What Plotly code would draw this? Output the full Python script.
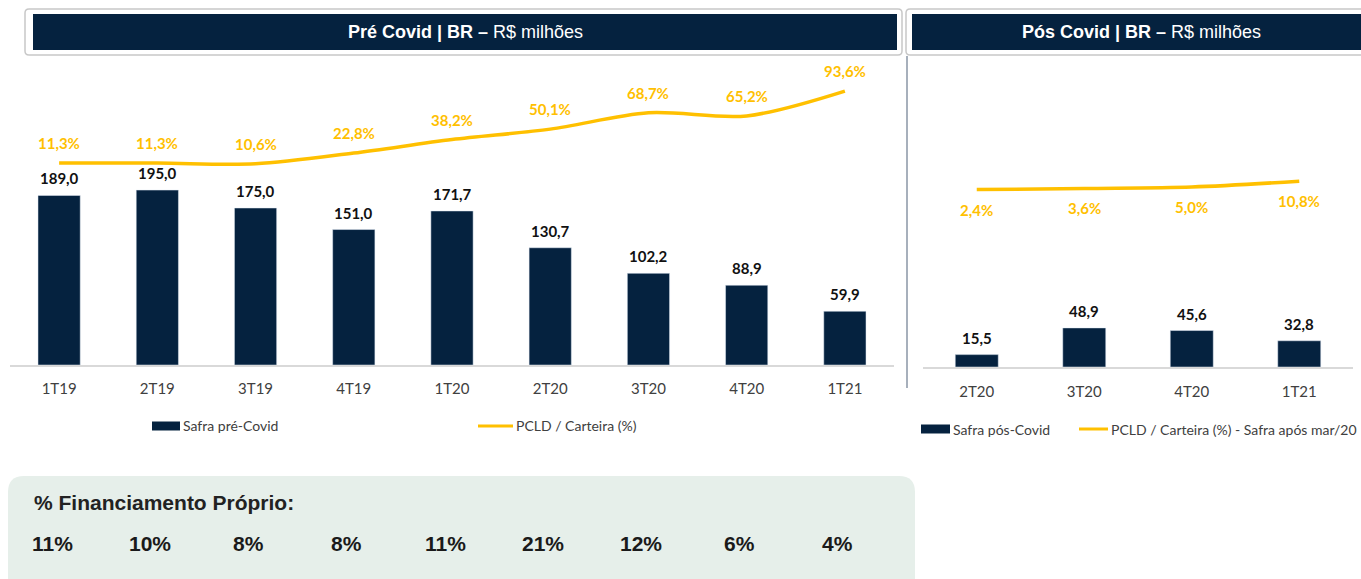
import plotly.graph_objects as go

# ---------------- data ----------------
pre_quarters = ["1T19", "2T19", "3T19", "4T19", "1T20", "2T20", "3T20", "4T20", "1T21"]
pre_safra = [189.0, 195.0, 175.0, 151.0, 171.7, 130.7, 102.2, 88.9, 59.9]
pre_pcld = [11.3, 11.3, 10.6, 22.8, 38.2, 50.1, 68.7, 65.2, 93.6]
fin_proprio = [11, 10, 8, 8, 11, 21, 12, 6, 4]

pos_quarters = ["2T20", "3T20", "4T20", "1T21"]
pos_safra = [15.5, 48.9, 45.6, 32.8]
pos_pcld = [2.4, 3.6, 5.0, 10.8]

W, H = 1361, 579
NAVY = "#05223F"
GOLD = "#FFC000"
GRAY_TXT = "#404040"


def px(x):
    return x / W


def py(y):
    return 1 - y / H


def br(v, d=1):
    return f"{v:.{d}f}".replace(".", ",")


fig = go.Figure()

# left panel
fig.add_trace(go.Bar(x=pre_quarters, y=pre_safra, marker_color=NAVY, width=0.43,
                     xaxis="x", yaxis="y", name="Safra pré-Covid", hoverinfo="x+y"))
fig.add_trace(go.Scatter(x=pre_quarters, y=pre_pcld, mode="lines",
                         line=dict(color=GOLD, width=3.5, shape="spline", smoothing=0.9),
                         xaxis="x", yaxis="y2", name="PCLD / Carteira (%)"))
# right panel
fig.add_trace(go.Bar(x=pos_quarters, y=pos_safra, marker_color=NAVY, width=0.40,
                     xaxis="x3", yaxis="y3", name="Safra pós-Covid", hoverinfo="x+y"))
fig.add_trace(go.Scatter(x=pos_quarters, y=pos_pcld, mode="lines",
                         line=dict(color=GOLD, width=3.5, shape="spline", smoothing=0.9),
                         xaxis="x3", yaxis="y4", name="PCLD / Carteira (%) - Safra após mar/20"))

annotations = []
BAR_FONT = dict(family="Lato", size=15, color="#111111")
PCT_FONT = dict(family="Lato", size=15, color=GOLD)

for q, v in zip(pre_quarters, pre_safra):
    annotations.append(dict(x=q, y=v, xref="x", yref="y", text=f"<b>{br(v)}</b>",
                            showarrow=False, yshift=17, font=BAR_FONT,
                            xanchor="center", yanchor="middle"))
for q, v in zip(pre_quarters, pre_pcld):
    annotations.append(dict(x=q, y=v, xref="x", yref="y2", text=f"<b>{br(v)}%</b>",
                            showarrow=False, yshift=20, font=PCT_FONT,
                            xanchor="center", yanchor="middle"))
for q, v in zip(pos_quarters, pos_safra):
    annotations.append(dict(x=q, y=v, xref="x3", yref="y3", text=f"<b>{br(v)}</b>",
                            showarrow=False, yshift=17, font=BAR_FONT,
                            xanchor="center", yanchor="middle"))
for q, v in zip(pos_quarters, pos_pcld):
    annotations.append(dict(x=q, y=v, xref="x3", yref="y4", text=f"<b>{br(v)}%</b>",
                            showarrow=False, yshift=-20, font=PCT_FONT,
                            xanchor="center", yanchor="middle"))

# financing row (aligned under the pre-covid quarters)
for q, v in zip(pre_quarters, fin_proprio):
    annotations.append(dict(x=q, y=py(543), xref="x", yref="paper", text=f"<b>{v}%</b>",
                            showarrow=False, xshift=-7, xanchor="center", yanchor="middle",
                            font=dict(family="Liberation Sans", size=21, color="#1a1a1a")))
annotations.append(dict(x=px(32), y=py(502), xref="paper", yref="paper", xanchor="left",
                        yanchor="middle", text="<b>% Financiamento Próprio:</b>", showarrow=False,
                        font=dict(family="Liberation Sans", size=21, color="#222222")))

# headers
annotations.append(dict(x=px(465), y=py(32), xref="paper", yref="paper",
                        xanchor="center", yanchor="middle",
                        text="<b>Pré Covid | BR –</b> R$ milhões", showarrow=False,
                        font=dict(family="Liberation Sans", size=18, color="white")))
annotations.append(dict(x=px(1141), y=py(32), xref="paper", yref="paper",
                        xanchor="center", yanchor="middle",
                        text="<b>Pós Covid | BR –</b> R$ milhões", showarrow=False,
                        font=dict(family="Liberation Sans", size=18, color="white")))

# legends (manual)
LEG_FONT = dict(family="Lato", size=14, color=GRAY_TXT)
legend_items = [
    ("bar", 152, 180, 426, 181, "Safra pré-Covid"),
    ("line", 478, 513, 426, 514, "PCLD / Carteira (%)"),
    ("bar", 921, 950, 429, 951, "Safra pós-Covid"),
    ("line", 1079, 1108, 429, 1109, "PCLD / Carteira (%) - Safra após mar/20"),
]
shapes = []
for kind, x0, x1, yc, tx, label in legend_items:
    if kind == "bar":
        shapes.append(dict(type="rect", xref="paper", yref="paper", x0=px(x0), x1=px(x1),
                           y0=py(yc + 4.5), y1=py(yc - 4.5), fillcolor=NAVY, line=dict(width=0)))
    else:
        shapes.append(dict(type="line", xref="paper", yref="paper", x0=px(x0), x1=px(x1),
                           y0=py(yc), y1=py(yc), line=dict(color=GOLD, width=3)))
    annotations.append(dict(x=px(tx), y=py(yc), xref="paper", yref="paper", xanchor="left",
                            yanchor="middle", text=label, showarrow=False, font=LEG_FONT))


def rounded_path(x0, y0, x1, y1, r):
    rx, ry = r / W, r / H
    X0, X1 = px(x0), px(x1)
    Y0, Y1 = py(y0), py(y1)  # Y0 top, Y1 bottom
    return (f"M {X0 + rx},{Y0} L {X1 - rx},{Y0} Q {X1},{Y0} {X1},{Y0 - ry} "
            f"L {X1},{Y1 + ry} Q {X1},{Y1} {X1 - rx},{Y1} L {X0 + rx},{Y1} "
            f"Q {X0},{Y1} {X0},{Y1 + ry} L {X0},{Y0 - ry} Q {X0},{Y0} {X0 + rx},{Y0} Z")


# green box
shapes.append(dict(type="path", xref="paper", yref="paper",
                   path=rounded_path(8, 476, 915, 600, 16),
                   fillcolor="#E6EFEA", line=dict(width=0), layer="below"))
# header outer borders
shapes.append(dict(type="path", xref="paper", yref="paper",
                   path=rounded_path(25, 9, 902, 55, 4),
                   fillcolor="white", line=dict(color="#C8C8C8", width=1.5), layer="below"))
shapes.append(dict(type="path", xref="paper", yref="paper",
                   path=rounded_path(906, 9, 1375, 55, 4),
                   fillcolor="white", line=dict(color="#C8C8C8", width=1.5), layer="below"))
# header navy bars
shapes.append(dict(type="rect", xref="paper", yref="paper", x0=px(33), x1=px(897),
                   y0=py(50), y1=py(14), fillcolor=NAVY, line=dict(width=0)))
shapes.append(dict(type="rect", xref="paper", yref="paper", x0=px(912), x1=px(1361),
                   y0=py(50), y1=py(14), fillcolor=NAVY, line=dict(width=0)))
# vertical separator
shapes.append(dict(type="line", xref="paper", yref="paper", x0=px(907), x1=px(907),
                   y0=py(56), y1=py(388), line=dict(color="#8A96A6", width=1.5)))

TICK_FONT = dict(family="Lato", size=15, color=GRAY_TXT)

fig.update_layout(
    width=W, height=H,
    margin=dict(l=0, r=0, t=0, b=0),
    paper_bgcolor="white", plot_bgcolor="rgba(0,0,0,0)",
    showlegend=False,
    annotations=annotations,
    shapes=shapes,
    xaxis=dict(domain=[px(10), px(894)], anchor="y", showline=True, linecolor="#D9D9D9",
               linewidth=1.5, ticks="", tickfont=TICK_FONT, ticklabelstandoff=9,
               showgrid=False, zeroline=False, fixedrange=True),
    yaxis=dict(domain=[py(365), py(60)], range=[0, 340], visible=False, fixedrange=True),
    yaxis2=dict(overlaying="y", range=[-219.4, 129.1], visible=False, fixedrange=True),
    xaxis3=dict(domain=[px(923), px(1353)], anchor="y3", showline=True, linecolor="#D9D9D9",
                linewidth=1.5, ticks="", tickfont=TICK_FONT, ticklabelstandoff=10,
                showgrid=False, zeroline=False, fixedrange=True),
    yaxis3=dict(domain=[py(367), py(60)], range=[0, 384], visible=False, fixedrange=True),
    yaxis4=dict(overlaying="y3", range=[-175, 132], visible=False, fixedrange=True),
)

fig.write_html(
    "out.html",
    config={"displayModeBar": False},
    post_script="document.body.style.margin='0';document.body.style.padding='0';"
                "document.body.style.overflow='hidden';",
)
